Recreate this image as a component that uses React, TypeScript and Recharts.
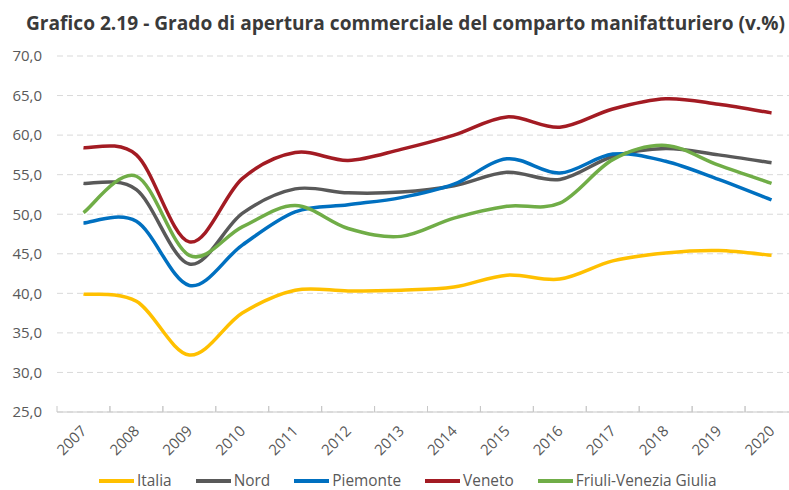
import React from 'react';
import { LineChart, Line, XAxis, YAxis, CartesianGrid, Legend } from 'recharts';

const years = ['2007', '2008', '2009', '2010', '2011', '2012', '2013', '2014', '2015', '2016', '2017', '2018', '2019', '2020'];
const italia = [39.9, 39.0, 32.2, 37.5, 40.4, 40.3, 40.4, 40.8, 42.3, 41.8, 44.1, 45.1, 45.4, 44.8];
const nord = [53.9, 53.1, 43.7, 50.1, 53.2, 52.7, 52.8, 53.6, 55.3, 54.4, 57.3, 58.3, 57.5, 56.5];
const piemonte = [48.9, 49.1, 41.0, 46.1, 50.3, 51.2, 52.1, 53.8, 57.0, 55.2, 57.6, 56.7, 54.4, 51.8];
const veneto = [58.4, 57.5, 46.5, 54.5, 57.8, 56.8, 58.2, 60.0, 62.3, 61.0, 63.3, 64.6, 63.9, 62.8];
const friuli = [50.2, 54.8, 44.8, 48.4, 51.1, 48.2, 47.2, 49.5, 51.0, 51.4, 56.9, 58.7, 56.2, 53.9];
const yTicks = [25, 30, 35, 40, 45, 50, 55, 60, 65, 70];

const series = [
  { key: 'italia', name: 'Italia', color: '#FFC000' },
  { key: 'nord', name: 'Nord', color: '#595959' },
  { key: 'piemonte', name: 'Piemonte', color: '#0070C0' },
  { key: 'veneto', name: 'Veneto', color: '#A31B23' },
  { key: 'friuli', name: 'Friuli-Venezia Giulia', color: '#70AD47' },
];

const rows = years.map((year, i) => ({
  year,
  italia: italia[i],
  nord: nord[i],
  piemonte: piemonte[i],
  veneto: veneto[i],
  friuli: friuli[i],
}));

const FONT = '"Open Sans", sans-serif';
const CHART_W = 800;
const MARGIN = { top: 56, right: 2, left: 0, bottom: 38 };
const Y_W = 57;
const BAND = (CHART_W - MARGIN.left - MARGIN.right - Y_W) / years.length;

// smooth line like the spreadsheet one (catmull-rom through the points)
const smoothCurve = (context: any) => {
  let pts: number[][] = [];
  return {
    areaStart() {},
    areaEnd() {},
    lineStart() {
      pts = [];
    },
    point(x: number, y: number) {
      pts.push([+x, +y]);
    },
    lineEnd() {
      if (!pts.length) return;
      context.moveTo(pts[0][0], pts[0][1]);
      for (let i = 0; i < pts.length - 1; i++) {
        const p0 = pts[i - 1] || pts[i];
        const p1 = pts[i];
        const p2 = pts[i + 1];
        const p3 = pts[i + 2] || p2;
        context.bezierCurveTo(
          p1[0] + (p2[0] - p0[0]) / 6,
          p1[1] + (p2[1] - p0[1]) / 6,
          p2[0] - (p3[0] - p1[0]) / 6,
          p2[1] - (p3[1] - p1[1]) / 6,
          p2[0],
          p2[1]
        );
      }
    },
  };
};

const YearTick = (props: any) => {
  const { x, y, payload } = props;
  const tx = x + 4;
  const ty = y + 20;
  return (
    <g>
      <line x1={x - BAND / 2} x2={x - BAND / 2} y1={y} y2={y - 6} stroke="#C8C8C8" strokeWidth={1} />
      <line x1={x + BAND / 2} x2={x + BAND / 2} y1={y} y2={y - 6} stroke="#C8C8C8" strokeWidth={1} />
      <text
        x={tx}
        y={ty}
        textAnchor="end"
        transform={`rotate(-45, ${tx}, ${ty})`}
        fill="#595959"
        fontSize={15}
        fontFamily={FONT}
      >
        {payload.value}
      </text>
    </g>
  );
};

const LegendContent = (props: any) => {
  const payload = [...(props.payload || [])].sort(
    (a: any, b: any) =>
      series.findIndex((s) => s.key === a.dataKey) - series.findIndex((s) => s.key === b.dataKey)
  );
  return (
    <div
      style={{
        display: 'flex',
        alignItems: 'center',
        height: 26,
        fontFamily: FONT,
        fontSize: 15.4,
        lineHeight: '20px',
        color: '#595959',
        whiteSpace: 'nowrap',
      }}
    >
      {payload.map((p: any) => (
        <div key={p.value} style={{ display: 'flex', alignItems: 'center', marginRight: 24 }}>
          <div style={{ width: 35, height: 3.5, background: p.color, marginRight: 3 }} />
          <span>{p.value}</span>
        </div>
      ))}
    </div>
  );
};

export default function App() {
  return (
    <div
      style={{
        position: 'fixed',
        left: 0,
        top: 0,
        width: 789,
        height: 490,
        overflow: 'hidden',
        background: '#fff',
      }}
    >
      <LineChart width={CHART_W} height={490} data={rows} margin={MARGIN}>
        <CartesianGrid vertical={false} stroke="#D9D9D9" strokeDasharray="6 4" />
        <XAxis
          dataKey="year"
          scale="band"
          interval={0}
          tickLine={false}
          tickSize={0}
          tickMargin={0}
          height={40}
          axisLine={{ stroke: '#C8C8C8' }}
          tick={<YearTick />}
        />
        <YAxis
          width={Y_W}
          domain={[25, 70]}
          ticks={yTicks}
          axisLine={false}
          tickLine={false}
          tickMargin={9}
          tickFormatter={(v: number) => v.toFixed(1).replace('.', ',')}
          tick={{ fill: '#595959', fontSize: 15, fontFamily: FONT }}
        />
        <Legend
          layout="horizontal"
          verticalAlign="middle"
          align="center"
          content={<LegendContent />}
          wrapperStyle={{ top: 468, left: 99, width: 680, height: 26 }}
        />
        {series.map((s) => (
          <Line
            key={s.key}
            dataKey={s.key}
            name={s.name}
            stroke={s.color}
            strokeWidth={3.5}
            type={smoothCurve as any}
            dot={false}
            activeDot={false}
            isAnimationActive={false}
          />
        ))}
      </LineChart>
      <svg width={789} height={40} style={{ position: 'absolute', left: 0, top: 0 }}>
        <text
          x={26}
          y={29.5}
          fontFamily={FONT}
          fontWeight={700}
          fontSize={19}
          fill="#3A3A3A"
          textLength={759}
          lengthAdjust="spacingAndGlyphs"
        >
          Grafico 2.19 - Grado di apertura commerciale del comparto manifatturiero (v.%)
        </text>
      </svg>
    </div>
  );
}
